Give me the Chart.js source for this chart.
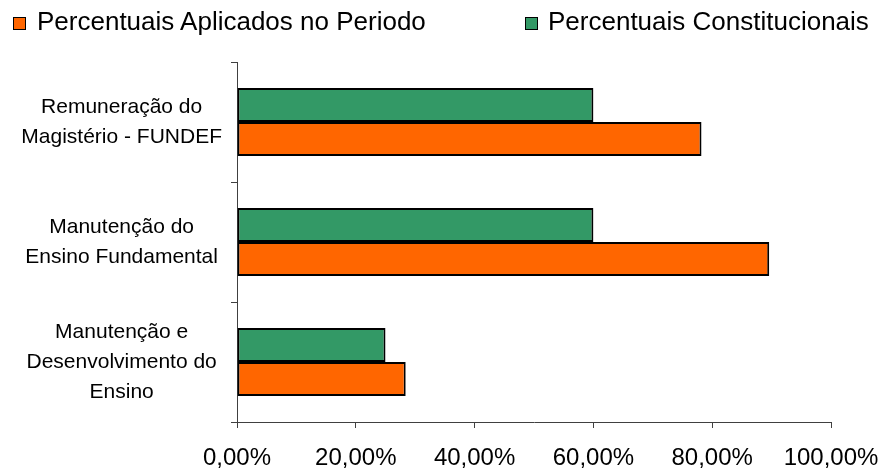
<!DOCTYPE html>
<html>
<head>
<meta charset="utf-8">
<script src="https://cdn.jsdelivr.net/npm/chart.js@4/dist/chart.umd.min.js"></script>
<style>
  html, body { margin: 0; padding: 0; background: #fff; }
  #wrap { position: relative; width: 885px; height: 472px; font-family: "Liberation Sans", Arial, sans-serif; }
  canvas { position: absolute; left: 0; top: 0; }
  .leg { position: absolute; top: 8px; font-size: 26px; line-height: 26px; color: #000; white-space: nowrap; }
  .box { position: absolute; top: 17px; width: 11px; height: 11px; border: 1.5px solid #000; }
</style>
</head>
<body>
<div id="wrap">
  <canvas id="c" width="885" height="472"></canvas>
  <div class="box" style="left:13px; background:#FF6600"></div>
  <div class="leg" style="left:37px">Percentuais Aplicados no Periodo</div>
  <div class="box" style="left:525px; background:#339966"></div>
  <div class="leg" style="left:548px">Percentuais Constitucionais</div>
</div>
<script>
// Categories (multi-line axis labels)
const categories = [
  ["Remuneração do", "Magistério - FUNDEF"],
  ["Manutenção do", "Ensino Fundamental"],
  ["Manutenção e", "Desenvolvimento do", "Ensino"]
];
// Percentages per category
const constitucionais = [60, 60, 25];
const aplicados = [78.2, 89.6, 28.4];
// Value axis ticks
const xTicks = [0, 20, 40, 60, 80, 100];

const axisColor = "#404040";
const fontFamily = "'Liberation Sans', Arial, sans-serif";

new Chart(document.getElementById("c"), {
  type: "bar",
  data: {
    labels: categories,
    datasets: [
      {
        label: "Percentuais Constitucionais",
        data: constitucionais,
        backgroundColor: "#339966",
        borderColor: "#000",
        borderWidth: 2,
        borderSkipped: false
      },
      {
        label: "Percentuais Aplicados no Periodo",
        data: aplicados,
        backgroundColor: "#FF6600",
        borderColor: "#000",
        borderWidth: 2,
        borderSkipped: false
      }
    ]
  },
  options: {
    indexAxis: "y",
    responsive: false,
    animation: false,
    devicePixelRatio: 1,
    datasets: { bar: { categoryPercentage: 0.567, barPercentage: 1.0 } },
    layout: { padding: { top: 62, right: 54, left: 0, bottom: 0 } },
    plugins: { legend: { display: false }, tooltip: { enabled: false } },
    scales: {
      x: {
        min: 0,
        max: 100,
        afterBuildTicks: (scale) => { scale.ticks = xTicks.map(v => ({ value: v })); },
        afterFit: (scale) => {
          scale.height = 50;
          scale.paddingLeft = 0;
          scale.paddingRight = 0;
        },
        grid: { drawOnChartArea: false, drawTicks: true, tickLength: 6, color: axisColor },
        border: { display: true, color: axisColor, width: 1 },
        ticks: {
          padding: 16,
          color: "#000",
          font: { family: fontFamily, size: 24 },
          maxRotation: 0,
          callback: (v) => Number(v).toFixed(2).replace(".", ",") + "%"
        }
      },
      y: {
        afterFit: (scale) => {
          scale.width = 237;
          scale.paddingTop = 0;
          scale.paddingBottom = 0;
        },
        grid: { drawOnChartArea: false, drawTicks: true, tickLength: 6, color: axisColor, offset: true },
        border: { display: true, color: axisColor, width: 1 },
        ticks: {
          crossAlign: "center",
          padding: 9,
          color: "#000",
          font: { family: fontFamily, size: 21, lineHeight: 1.43 }
        }
      }
    }
  }
});
</script>
</body>
</html>
